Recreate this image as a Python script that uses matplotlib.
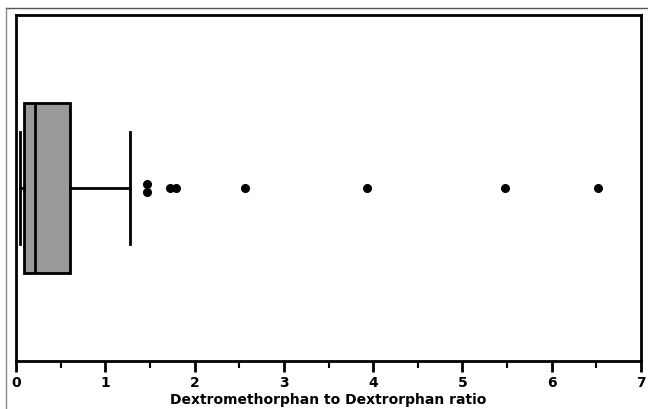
import numpy as np
import matplotlib.pyplot as plt
from matplotlib.lines import Line2D

# box summary
whisker_low = 0.04
q1 = 0.09
median = 0.21
q3 = 0.61
whisker_high = 1.28

# outliers (x value, vertical offset so the two at 1.47 don't overlap)
outlier_x = [1.47, 1.47, 1.73, 1.79, 2.57, 3.93, 5.48, 6.52]
outlier_off = [0.024, -0.024, 0, 0, 0, 0, 0, 0]

xticks = [0, 1, 2, 3, 4, 5, 6, 7]
xlabel = 'Dextromethorphan to Dextrorphan ratio'

fig = plt.figure(figsize=(6.48, 4.09), dpi=100)
ax = fig.add_axes([16 / 648, 1 - 361 / 409, 625 / 648, 346 / 409])

y0 = 0
ax.bxp([{'whislo': whisker_low, 'q1': q1, 'med': median, 'q3': q3,
         'whishi': whisker_high, 'fliers': []}],
       positions=[y0], vert=False, widths=0.93, patch_artist=True,
       showfliers=False,
       boxprops=dict(facecolor='#999999', edgecolor='black', linewidth=2),
       medianprops=dict(color='black', linewidth=2),
       whiskerprops=dict(color='black', linewidth=2),
       capprops=dict(color='black', linewidth=2),
       capwidths=0.62)

ax.plot(outlier_x, [y0 + o for o in outlier_off], 'o', color='black',
        markersize=5.5)

ax.set_xlim(0, 7)
ax.set_ylim(-0.95, 0.95)
ax.set_yticks([])
ax.set_xticks(xticks)
ax.set_xticks(np.arange(0.5, 7, 1.0), minor=True)
ax.set_xticklabels([str(t) for t in xticks], fontweight='bold', fontsize=10)
ax.tick_params(axis='x', which='major', length=8, width=2, direction='out', pad=3)
ax.tick_params(axis='x', which='minor', length=5, width=1.5, direction='out')
ax.set_xlabel(xlabel, fontweight='bold', fontsize=10, labelpad=2)
for s in ax.spines.values():
    s.set_linewidth(2)

# thin grey frame around the picture (top and left edges only)
fig.add_artist(Line2D([6 / 648, 1], [1 - 8 / 409, 1 - 8 / 409],
                      transform=fig.transFigure, color='#555555', linewidth=1))
fig.add_artist(Line2D([6 / 648, 6 / 648], [0, 1 - 8 / 409],
                      transform=fig.transFigure, color='#888888', linewidth=1))

fig.savefig('out.png', dpi=100)
